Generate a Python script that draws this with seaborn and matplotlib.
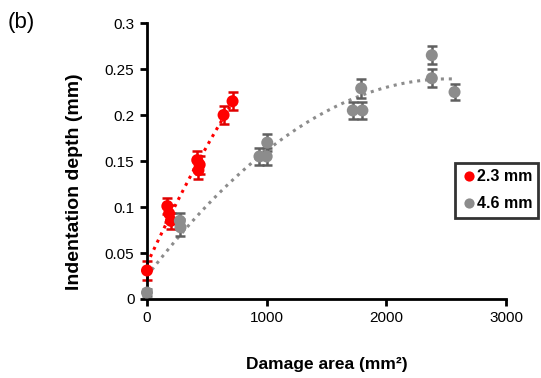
import numpy as np
import pandas as pd
import matplotlib.pyplot as plt
import seaborn as sns

# data
area_23 = [0, 170, 185, 200, 420, 430, 440, 640, 715]
depth_23 = [0.031, 0.101, 0.093, 0.085, 0.151, 0.140, 0.146, 0.200, 0.215]
err_23 = [0.010, 0.009, 0.009, 0.009, 0.010, 0.010, 0.010, 0.010, 0.010]

area_46 = [0, 275, 280, 940, 1000, 1005, 1720, 1790, 1800, 2380, 2380, 2570]
depth_46 = [0.007, 0.085, 0.078, 0.155, 0.155, 0.170, 0.205, 0.229, 0.205, 0.265, 0.240, 0.225]
err_46 = [0.004, 0.009, 0.009, 0.009, 0.009, 0.009, 0.009, 0.010, 0.009, 0.010, 0.010, 0.009]

df = pd.concat([
    pd.DataFrame({'area': area_23, 'depth': depth_23, 'err': err_23, 'size': '2.3 mm'}),
    pd.DataFrame({'area': area_46, 'depth': depth_46, 'err': err_46, 'size': '4.6 mm'}),
])
colors = {'2.3 mm': '#ff0000', '4.6 mm': '#8c8c8c'}
err_colors = {'2.3 mm': '#e00000', '4.6 mm': '#606060'}

sns.set_style('ticks')
plt.rcParams['font.family'] = ['Liberation Sans', 'DejaVu Sans']
plt.rcParams['text.color'] = 'black'
plt.rcParams['axes.labelcolor'] = 'black'
plt.rcParams['xtick.color'] = 'black'
plt.rcParams['ytick.color'] = 'black'
plt.rcParams['axes.edgecolor'] = 'black'

fig = plt.figure(figsize=(5.41, 3.78), dpi=100)
ax = fig.add_axes([0.2717, 0.209, 0.6636, 0.730])

# polynomial trendlines (dotted)
for name, sub in df.groupby('size'):
    c = np.polyfit(sub['area'], sub['depth'], 2)
    xs = np.linspace(0, sub['area'].max(), 100)
    ax.plot(xs, np.polyval(c, xs), ls=(0, (1, 1.6)), lw=2.2, color=colors[name], zorder=1)

for name, sub in df.groupby('size'):
    ax.errorbar(sub['area'], sub['depth'], yerr=sub['err'], fmt='none',
                ecolor=err_colors[name], elinewidth=1.8, capsize=3.3,
                capthick=1.8, zorder=2, clip_on=False)

sns.scatterplot(data=df, x='area', y='depth', hue='size', palette=colors,
                s=75, edgecolor='none', ax=ax, zorder=3, clip_on=False)

ax.set_xlim(0, 3000)
ax.set_ylim(0, 0.3)
ax.set_xticks([0, 1000, 2000, 3000])
ax.set_yticks([0, 0.05, 0.1, 0.15, 0.2, 0.25, 0.3])
ax.set_yticklabels(['0', '0.05', '0.1', '0.15', '0.2', '0.25', '0.3'])
ax.tick_params(labelsize=11, width=2, length=5, direction='out', pad=4)
ax.set_xlabel('Damage area (mm²)', fontsize=12.5, fontweight='bold')
ax.set_ylabel('Indentation depth (mm)', fontsize=14, fontweight='bold')
ax.xaxis.set_label_coords(0.5, -0.21)
ax.yaxis.set_label_coords(-0.178, 0.424)
for s in ['left', 'bottom']:
    ax.spines[s].set_linewidth(2)
sns.despine(ax=ax)

leg = ax.legend(title=None, loc='upper left', bbox_to_anchor=(0.841, 0.569),
                bbox_transform=fig.transFigure,
                frameon=True, fancybox=False, handletextpad=0.05,
                borderpad=0.4, labelspacing=0.75, handlelength=0.9,
                borderaxespad=0, markerscale=0.85,
                prop={'weight': 'bold', 'size': 11.5})
leg.get_frame().set_edgecolor('black')
leg.get_frame().set_linewidth(2)

fig.text(0.015, 0.925, '(b)', fontsize=16)

plt.savefig('out.png', dpi=100)
